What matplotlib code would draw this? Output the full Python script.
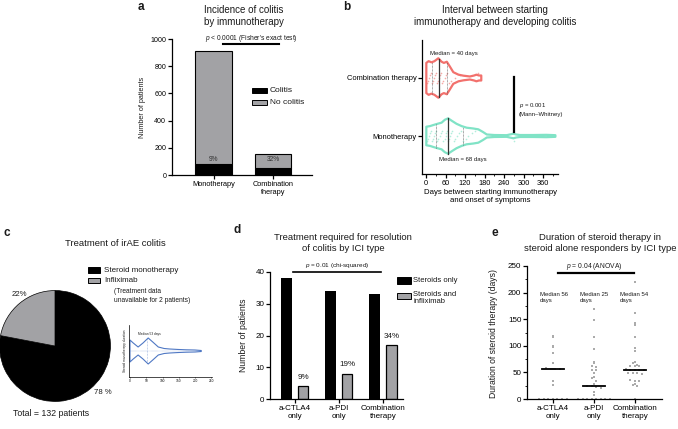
import matplotlib
matplotlib.use("Agg")
import matplotlib.pyplot as plt
from matplotlib.lines import Line2D
from matplotlib.patches import Rectangle
from matplotlib.ticker import MultipleLocator
import numpy as np

# ---- data ----
# a: incidence of colitis
cats_a = ["Monotherapy", "Combination\ntherapy"]
colitis_a = [84, 50]
no_colitis_a = [831, 104]
pct_a = ["9%", "32%"]

# b: violin outlines (days, half-width in category units)
comb_days = [1, 8, 17, 26, 38, 48, 55, 64, 72, 84, 100, 115, 135, 148, 155, 163, 170]
comb_hw = [0.26, 0.29, 0.27, 0.29, 0.34, 0.28, 0.26, 0.28, 0.21, 0.10, 0.057, 0.04,
           0.026, 0.043, 0.057, 0.043, 0.043]
mono_days = [1, 12, 23, 35, 48, 58, 68, 80, 94, 110, 125, 145, 161, 175, 187, 210,
             248, 262, 269, 277, 289, 330, 370, 385, 398]
mono_hw = [0.16, 0.17, 0.19, 0.21, 0.23, 0.28, 0.305, 0.26, 0.21, 0.17, 0.143, 0.13,
           0.115, 0.07, 0.026, 0.017, 0.014, 0.031, 0.04, 0.026, 0.017, 0.017, 0.02,
           0.017, 0.014]
comb_q = [19, 40, 64]     # quartile, median, quartile
mono_q = [31, 68, 114]
comb_pts = [3, 6, 9, 12, 14, 18, 21, 25, 28, 31, 35, 38, 40, 42, 45, 49, 52, 57, 61,
            66, 70, 78, 88, 105, 160]
mono_pts = [2, 5, 8, 11, 14, 17, 21, 24, 27, 30, 34, 38, 42, 45, 49, 53, 57, 60, 63,
            66, 68, 70, 73, 77, 81, 85, 90, 95, 101, 108, 115, 122, 130, 140, 150, 270]

# c: treatment split and inset violin
pie_labels = ["Steroid monotherapy", "Infliximab"]
pie_vals = [78, 22]
inset_days = [0, 10, 25, 40, 56, 70, 87, 105, 122, 150, 173, 200, 219]
inset_hw = [11, 8, 4, 8, 13, 9, 4, 2.5, 2, 1.5, 1.2, 1, 0.5]

# d: treatment required by ICI type
cats_d = ["a-CTLA4\nonly", "a-PDI\nonly", "Combination\ntherapy"]
steroids_d = [38, 34, 33]
inflix_d = [4, 8, 17]
pct_d = ["9%", "19%", "34%"]

# e: steroid duration per patient
ctla4_days = [118, 116, 100, 97, 87, 68, 59, 57, 57, 57, 56, 34, 26, 0, 0, 0, 0, 0, 0, 0]
pdi_days = [170, 148, 117, 94, 70, 68, 62, 60, 55, 55, 48, 42, 39, 34, 29, 25, 24, 23,
            21, 14, 8, 0, 0, 0, 0, 0, 0, 0, 0]
combo_days = [220, 162, 142, 140, 117, 95, 91, 70, 68, 64, 62, 62, 62, 56, 55, 55, 54,
              54, 48, 48, 48, 47, 35, 34, 34, 28, 27, 25, 0]
medians_e = [56, 25, 54]

# ---- style ----
GRAY = "#a2a2a5"
RED = "#f2716d"
MINT = "#80e3c6"
BLUE = "#4f78c4"
DOT = "#ababab"

plt.rcParams.update({
    "font.family": ["Liberation Sans", "DejaVu Sans"],
    "mathtext.fontset": "custom",
    "mathtext.rm": "Liberation Sans",
    "mathtext.it": "Liberation Sans:italic",
    "axes.linewidth": 0.9,
    "xtick.major.width": 0.9,
    "ytick.major.width": 0.9,
    "xtick.major.size": 2.6,
    "ytick.major.size": 2.6,
    "xtick.minor.size": 1.5,
    "ytick.minor.size": 1.5,
    "xtick.major.pad": 1.5,
    "ytick.major.pad": 1.5,
    "text.color": "#1a1a1a",
})

W, H = 678, 429
fig = plt.figure(figsize=(W / 100, H / 100), dpi=100)


def fx(x):
    return x / W


def fy(y):
    return 1 - y / H


def box(l, t, r, b):
    return [fx(l), fy(b), (r - l) / W, (b - t) / H]


def txt(x, y, s, **kw):
    kw.setdefault("va", "center")
    fig.text(fx(x), fy(y), s, **kw)


def hline(x0, x1, y, lw=1.5):
    fig.add_artist(Line2D([fx(x0), fx(x1)], [fy(y), fy(y)], color="black", lw=lw))


def swatch(l, t, r, b, color):
    fig.add_artist(Rectangle((fx(l), fy(b)), (r - l) / W, (b - t) / H, facecolor=color,
                             edgecolor="black", lw=0.7, transform=fig.transFigure))


def clean(ax):
    for sp in ["top", "right"]:
        ax.spines[sp].set_visible(False)


# ================= a =================
axa = fig.add_axes(box(172, 39, 312, 175))
xa = np.arange(len(cats_a))
axa.bar(xa, colitis_a, 0.62, color="black", edgecolor="black", lw=0.8)
axa.bar(xa, no_colitis_a, 0.62, bottom=colitis_a, color=GRAY, edgecolor="black", lw=0.8)
for i, p in enumerate(pct_a):
    axa.text(xa[i], 115, p, ha="center", va="center", fontsize=4.8, color="#333")
axa.set_xlim(-0.70, 1.655)
axa.set_ylim(0, 1000)
axa.set_yticks(range(0, 1001, 200))
axa.set_xticks(xa, cats_a)
axa.tick_params(axis="y", labelsize=5.1)
axa.tick_params(axis="x", labelsize=5.3)
clean(axa)
txt(142, 107, "Number of patients", rotation=90, ha="center", fontsize=5.2)
txt(244, 16, "Incidence of colitis\nby immunotherapy", ha="center", fontsize=7, linespacing=1.2)
txt(138, 7, "a", fontsize=8.5, fontweight="bold")
txt(251, 38, r"$\it{p}$ < 0.0001 (Fisher's exact test)", ha="center", fontsize=4.8)
hline(223, 279, 44)
swatch(252, 88, 267, 93, "black")
swatch(252, 100, 267, 105, GRAY)
txt(270, 90.5, "Colitis", fontsize=6)
txt(270, 102.5, "No colitis", fontsize=6)

# ================= b =================
axb = fig.add_axes(box(422, 40, 558, 174))


def violin(ax, days, hw, y0, color, lw):
    d = np.array(days, float)
    w = np.array(hw, float)
    xs = np.concatenate([d, d[::-1]])
    ys = np.concatenate([y0 + w, (y0 - w)[::-1]])
    ax.fill(xs, ys, facecolor="white", edgecolor=color, lw=lw, joinstyle="round", zorder=2)
    return d, w


def dots(ax, pts, y0, color, step, rows=5):
    order = np.arange(len(pts))
    offs = ((order % rows) - (rows - 1) / 2) * step
    ax.scatter(pts, y0 + offs, s=1.4, color=color, alpha=0.6, lw=0, zorder=3)


for days, hw, y0, col, q, pts in [(comb_days, comb_hw, 1, RED, comb_q, comb_pts),
                                  (mono_days, mono_hw, 0, MINT, mono_q, mono_pts)]:
    d, w = violin(axb, days, hw, y0, col, 1.6)
    dots(axb, pts, y0, col, 0.045)
    for k, qv in enumerate(q):
        h = np.interp(qv, d, w)
        if k == 1:
            axb.plot([qv, qv], [y0 - h, y0 + h], color="#333", lw=0.9, zorder=4)
        else:
            axb.plot([qv, qv], [y0 - h, y0 + h], color="#555", lw=0.5, ls=(0, (1, 1)), zorder=4)

axb.set_xlim(-12.3, 406)
axb.set_ylim(-0.655, 1.655)
axb.set_xticks(range(0, 361, 60))
axb.xaxis.set_minor_locator(MultipleLocator(30))
axb.set_yticks([0, 1], ["Monotherapy", "Combination therapy"])
axb.tick_params(axis="y", labelsize=5.4)
axb.tick_params(axis="x", labelsize=5.3)
clean(axb)
axb.set_xlabel("Days between starting immunotherapy\nand onset of symptoms", fontsize=5.6,
               labelpad=2, linespacing=1.15)
txt(430, 54, "Median = 40 days", fontsize=4.3)
txt(439, 160, "Median = 68 days", fontsize=4.3)
fig.add_artist(Line2D([fx(514), fx(514)], [fy(77), fy(132)], color="black", lw=1.6))
txt(519, 109, r"$\it{p}$ = 0.001" + "\n(Mann\u2013Whitney)", fontsize=4.3, linespacing=1.3)
txt(495, 16, "Interval between starting\nimmunotherapy and developing colitis", ha="center",
    fontsize=7, linespacing=1.2)
txt(343, 7, "b", fontsize=8.5, fontweight="bold")

# ================= c =================
axc = fig.add_axes(box(-1, 290, 111, 402))
axc.pie(pie_vals, colors=["black", GRAY], startangle=90, counterclock=False,
        wedgeprops=dict(edgecolor="black", linewidth=0.5))
axc.set_xlim(-1.01, 1.01)
axc.set_ylim(-1.01, 1.01)
txt(19, 295, "22%", ha="center", fontsize=5.6)
txt(103, 393, "78 %", ha="center", fontsize=5.6)
txt(13, 414, "Total = 132 patients", fontsize=6.3)
txt(115, 244, "Treatment of irAE colitis", ha="center", fontsize=6.8)
txt(4, 233, "c", fontsize=8.5, fontweight="bold")
swatch(88, 267, 100, 273, "black")
swatch(88, 278, 100, 283, GRAY)
txt(104, 270, pie_labels[0], fontsize=5.8)
txt(104, 280.5, pie_labels[1], fontsize=5.8)
txt(114, 296, "(Treatment data\nunavailable for 2 patients)", fontsize=4.8, linespacing=1.25)

axi = fig.add_axes(box(129, 325, 212, 377))
d, w = violin(axi, inset_days, inset_hw, 0, BLUE, 0.8)
axi.plot([53, 53], [-np.interp(53, d, w), np.interp(53, d, w)], color=BLUE, lw=0.4, ls=":")
axi.plot([0, 219], [0, 0], color=BLUE, lw=0.3, ls=":")
axi.scatter([20, 30, 38, 45, 48, 52, 55, 58, 60, 63, 68, 90, 95, 130, 150, 175],
            [0] * 16, s=0.6, color=BLUE, alpha=0.7, lw=0)
axi.set_xlim(-3, 252)
axi.set_ylim(-26, 26)
axi.set_xticks(range(0, 251, 50))
axi.set_yticks([])
axi.tick_params(axis="x", labelsize=2.3, length=1, width=0.4, pad=0.8)
for sp in ["left", "bottom"]:
    axi.spines[sp].set_linewidth(0.5)
clean(axi)
txt(125, 351, "Steroid monotherapy duration", rotation=90, ha="center", fontsize=2.3)
txt(138, 334, "Median 53 days", fontsize=2.3)

# ================= d =================
axd = fig.add_axes(box(270, 272, 403, 399))
xd = np.arange(len(cats_d))
axd.bar(xd - 0.19, steroids_d, 0.25, color="black")
axd.bar(xd + 0.19, inflix_d, 0.23, color=GRAY, edgecolor="black", lw=0.9)
for i, p in enumerate(pct_d):
    axd.text(xd[i] + 0.19, inflix_d[i] + 2.8, p, ha="center", va="center", fontsize=5.8)
axd.set_xlim(-0.56, 2.45)
axd.set_ylim(0, 40)
axd.set_yticks(range(0, 41, 10))
axd.set_xticks(xd, cats_d)
axd.tick_params(labelsize=5.8)
clean(axd)
txt(243, 335, "Number of patients", rotation=90, ha="center", fontsize=6.2)
txt(343, 243, "Treatment required for resolution\nof colitis by ICI type", ha="center",
    fontsize=6.8, linespacing=1.2)
txt(234, 230, "d", fontsize=8.5, fontweight="bold")
txt(337, 266, r"$\it{p}$ = 0.01 (chi-squared)", ha="center", fontsize=4.6)
hline(293, 381, 272, lw=1.2)
swatch(397, 277, 411, 284, "black")
swatch(397, 293, 411, 299, GRAY)
txt(413, 281, "Steroids only", fontsize=5.5)
txt(413, 298, "Steroids and\ninfliximab", fontsize=5.5, linespacing=1.05)

# ================= e =================
axe = fig.add_axes(box(527, 266, 662, 399))


def strip_offsets(vals, step=0.11, binw=6):
    vals = np.asarray(vals, float)
    offs = np.zeros(len(vals))
    bins = np.round(vals / binw)
    for b in np.unique(bins):
        idx = np.where(bins == b)[0]
        offs[idx] = (np.arange(len(idx)) - (len(idx) - 1) / 2) * step
    return offs


for i, vals in enumerate([ctla4_days, pdi_days, combo_days]):
    axe.scatter(i + strip_offsets(vals), vals, s=2.6, marker="s", color=DOT, lw=0,
                zorder=2, clip_on=False)
    axe.plot([i - 0.27, i + 0.27], [medians_e[i], medians_e[i]], color="black", lw=1.3,
             zorder=3)
axe.set_xlim(-0.634, 2.66)
axe.set_ylim(0, 250)
axe.set_yticks(range(0, 251, 50))
axe.yaxis.set_minor_locator(MultipleLocator(25))
axe.set_xticks(range(3), cats_d)
axe.tick_params(labelsize=5.8)
clean(axe)
txt(493, 333, "Duration of steroid therapy (days)", rotation=90, ha="center", fontsize=6.2)
txt(600, 243, "Duration of steroid therapy in\nsteroid alone responders by ICI type",
    ha="center", fontsize=6.8, linespacing=1.2)
txt(491, 233, "e", fontsize=8.5, fontweight="bold")
txt(594, 266.5, r"$\it{p}$ = 0.04 (ANOVA)", ha="center", fontsize=4.9)
hline(558, 634, 273, lw=1.6)
for xm, m in zip([540, 580, 620], medians_e):
    txt(xm, 297.5, "Median %d\ndays" % m, fontsize=4.3, linespacing=1.2)

fig.savefig("out.png", dpi=100)
